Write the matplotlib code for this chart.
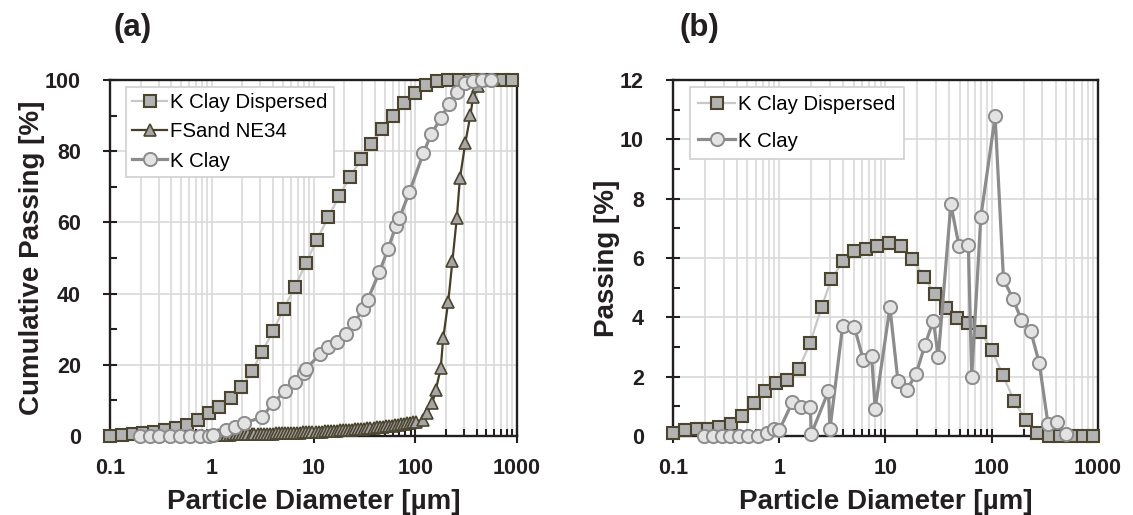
import numpy as np
import matplotlib
matplotlib.use("Agg")
import matplotlib.pyplot as plt
from matplotlib.ticker import LogLocator, MultipleLocator, NullFormatter

plt.rcParams['font.family'] = ['Liberation Sans', 'DejaVu Sans']

# particle size bins (um) of the dispersed measurement
d_disp = [0.1, 0.13, 0.167, 0.212, 0.273, 0.35, 0.449, 0.575, 0.73, 0.93,
          1.18, 1.53, 1.96, 2.5, 3.1, 4.0, 5.1, 6.6, 8.4, 10.8,
          14.0, 17.9, 22.9, 29.2, 37.0, 47.1, 60.2, 77.9, 99.6, 127.5,
          163, 209, 268, 343, 440, 563, 722, 890]
cum_disp = [0, 0.3, 0.5, 0.8, 1.2, 1.7, 2.2, 3.0, 4.6, 6.6,
            8.2, 10.6, 13.7, 18.3, 23.5, 29.4, 35.8, 41.9, 48.5, 55.1,
            61.5, 67.4, 72.8, 77.7, 82.1, 86.1, 89.9, 93.5, 96.4, 98.6,
            99.6, 100, 100, 100, 100, 100, 100, 100]
pass_disp = [0.11, 0.2, 0.22, 0.25, 0.3, 0.39, 0.67, 1.12, 1.53, 1.77,
             1.9, 2.27, 3.15, 4.34, 5.29, 5.9, 6.23, 6.31, 6.41, 6.51,
             6.41, 5.96, 5.37, 4.79, 4.3, 3.97, 3.8, 3.52, 2.91, 2.05,
             1.17, 0.54, 0.09, 0, 0, 0, 0, 0]

# FSand NE34 cumulative curve
d_sand = [1.00, 1.07, 1.15, 1.23, 1.32, 1.41, 1.51, 1.62, 1.74, 1.86,
          2.00, 2.14, 2.29, 2.46, 2.63, 2.82, 3.02, 3.24, 3.47, 3.72,
          3.98, 4.27, 4.57, 4.90, 5.25, 5.62, 6.03, 6.46, 6.92, 7.41,
          7.94, 8.51, 9.12, 9.77, 10.5, 11.2, 12.0, 12.9, 13.8, 14.8,
          15.8, 17.0, 18.2, 19.5, 20.9, 22.4, 24.0, 25.7, 27.5, 29.5,
          31.6, 33.9, 36.3, 38.9, 41.7, 44.7, 47.9, 51.3, 55.0, 58.9,
          63.1, 67.6, 72.4, 77.6, 83.2, 89.1, 95.5, 102,
          120, 130, 147, 159, 178, 188, 211, 232, 256, 275,
          310, 349, 370, 417, 500, 600]
cum_sand = [0.30, 0.32, 0.34, 0.36, 0.38, 0.40, 0.42, 0.44, 0.46, 0.48,
            0.50, 0.52, 0.54, 0.56, 0.58, 0.60, 0.62, 0.64, 0.66, 0.68,
            0.70, 0.73, 0.76, 0.79, 0.82, 0.85, 0.88, 0.91, 0.94, 0.97,
            1.00, 1.04, 1.08, 1.12, 1.16, 1.20, 1.25, 1.30, 1.35, 1.40,
            1.45, 1.51, 1.57, 1.63, 1.69, 1.75, 1.82, 1.89, 1.96, 2.03,
            2.10, 2.18, 2.26, 2.34, 2.42, 2.51, 2.60, 2.70, 2.80, 2.91,
            3.02, 3.14, 3.26, 3.39, 3.52, 3.66, 3.80, 3.95,
            4.5, 6.4, 9.2, 12.9, 19.0, 27.4, 37.7, 49.2, 61.2, 72.4,
            82.2, 90.2, 95.1, 98.3, 100, 100]

# K Clay (not dispersed), cumulative
d_clay_cum = [0.197, 0.247, 0.305, 0.39, 0.488, 0.61, 0.77, 0.93, 1.03, 1.39,
              1.69, 2.08, 3.1, 4.0, 5.2, 6.6, 8.0, 8.4, 11.6, 14.0,
              16.9, 20.9, 25.0, 30.7, 34.0, 44.5, 54.0, 64.7, 69.6, 87.6,
              120, 143, 178, 214, 256, 310, 370, 452, 560]
cum_clay = [0, 0, 0, 0, 0, 0, 0, 0.1, 0.3, 1.7,
            2.4, 3.7, 5.2, 9.2, 12.5, 15.3, 17.6, 18.8, 23.0, 25.1,
            26.5, 28.7, 31.7, 35.6, 38.2, 46.1, 52.5, 59.1, 61.1, 68.5,
            79.4, 84.7, 89.2, 93.3, 96.7, 99.2, 99.8, 100, 100]

# K Clay (not dispersed), frequency
d_clay = [0.197, 0.24, 0.29, 0.345, 0.42, 0.51, 0.625, 0.76, 0.90, 1.0,
          1.33, 1.6, 1.96, 2.0, 2.9, 3.0, 3.95, 5.1, 6.2, 7.4,
          8.0, 11.0, 13.1, 15.8, 19.4, 23.5, 28.2, 31.4, 41.2, 49.2,
          60.2, 64.8, 78.9, 107.6, 129, 158, 190, 232, 280, 339,
          413, 500]
pass_clay = [0, 0, 0, 0, 0, 0, 0, 0.09, 0.25, 0.2,
             1.14, 0.99, 0.99, 0.06, 1.51, 0.22, 3.71, 3.67, 2.55, 2.68,
             0.92, 4.34, 1.85, 1.54, 2.09, 3.07, 3.89, 2.66, 7.81, 6.41,
             6.43, 1.99, 7.38, 10.77, 5.28, 4.63, 3.92, 3.55, 2.46, 0.39,
             0.47, 0.06]

xticks = [0.1, 1, 10, 100, 1000]
xtick_labels = ['0.1', '1', '10', '100', '1000']

ink = '#231f20'
olive = '#4b4530'

disp_style = dict(color='#c8c8c8', lw=1.6, marker='s', ms=8.5,
                  mfc='#b3b3b3', mec=olive, mew=1.5)
sand_style = dict(color='#453f28', lw=1.6, marker='^', ms=8.5,
                  mfc='#a6a6a6', mec=olive, mew=1.2)
clay_style = dict(color='#8c8c8c', lw=2.3, marker='o', ms=9.5,
                  mfc='#e3e3e3', mec='#8c8c8c', mew=1.4)

fig = plt.figure(figsize=(11.33, 5.15), dpi=100)
ax1 = fig.add_axes([0.0971, 0.1534, 0.3592, 0.6913])
ax2 = fig.add_axes([0.594, 0.1534, 0.3751, 0.6913])


def style_axis(ax, ymax, ystep, yminor, ylabel):
    ax.set_xscale('log')
    ax.set_xlim(0.1, 1000)
    ax.set_ylim(0, ymax)
    ax.set_xticks(xticks)
    ax.set_xticklabels(xtick_labels)
    ax.xaxis.set_minor_locator(LogLocator(base=10, subs=np.arange(2, 10)))
    ax.xaxis.set_minor_formatter(NullFormatter())
    ax.yaxis.set_major_locator(MultipleLocator(ystep))
    ax.yaxis.set_minor_locator(MultipleLocator(yminor))
    ax.set_axisbelow(True)
    ax.grid(which='both', axis='x', color='#d9d9d9', lw=1.2)
    ax.grid(which='major', axis='y', color='#d9d9d9', lw=1.2)
    for s in ax.spines.values():
        s.set_color(ink)
        s.set_linewidth(1.7)
    ax.tick_params(which='major', direction='inout', length=10, width=1.5,
                   color=ink, labelsize=15.5, labelcolor=ink)
    ax.tick_params(axis='x', which='major', pad=11)
    ax.tick_params(axis='y', which='major', pad=16)
    ax.tick_params(which='minor', direction='in', length=5, width=1.5, color=ink)
    for lab in ax.get_xticklabels() + ax.get_yticklabels():
        lab.set_fontweight('bold')
    ax.set_xlabel('Particle Diameter [µm]', fontsize=20, fontweight='bold',
                  color=ink, labelpad=7)
    ax.set_ylabel(ylabel, fontsize=20, fontweight='bold', color=ink, labelpad=0)


# (a) cumulative curves
ax1.plot(d_disp, cum_disp, label='K Clay Dispersed', clip_on=False, zorder=3, **disp_style)
ax1.plot(d_sand, cum_sand, label='FSand NE34', clip_on=False, zorder=4, **sand_style)
ax1.plot(d_clay_cum, cum_clay, label='K Clay', clip_on=False, zorder=5, **clay_style)
style_axis(ax1, 100, 20, 10, 'Cumulative Passing [%]')
leg1 = ax1.legend(loc='upper left', bbox_to_anchor=(0.04, 0.98), fontsize=14.7,
                  fancybox=False, edgecolor='#d0d0d0', framealpha=1,
                  handlelength=1.7, handletextpad=0.15, borderpad=0.3,
                  labelspacing=0.5, borderaxespad=0)
leg1.get_frame().set_linewidth(1.2)

# (b) frequency curves
ax2.plot(d_disp, pass_disp, label='K Clay Dispersed', clip_on=False, zorder=3, **disp_style)
ax2.plot(d_clay, pass_clay, label='K Clay', clip_on=False, zorder=5, **clay_style)
style_axis(ax2, 12, 2, 1, 'Passing [%]')
leg2 = ax2.legend(loc='upper left', bbox_to_anchor=(0.04, 0.98), fontsize=14.7,
                  fancybox=False, edgecolor='#d0d0d0', framealpha=1,
                  handlelength=1.8, handletextpad=0.15, borderpad=0.4,
                  labelspacing=0.85, borderaxespad=0)
leg2.get_frame().set_linewidth(1.2)

fig.text(0.117, 0.945, '(a)', fontsize=22.5, fontweight='bold', color=ink,
         ha='center', va='center')
fig.text(0.617, 0.945, '(b)', fontsize=22.5, fontweight='bold', color=ink,
         ha='center', va='center')

fig.savefig('out.png', dpi=100)
